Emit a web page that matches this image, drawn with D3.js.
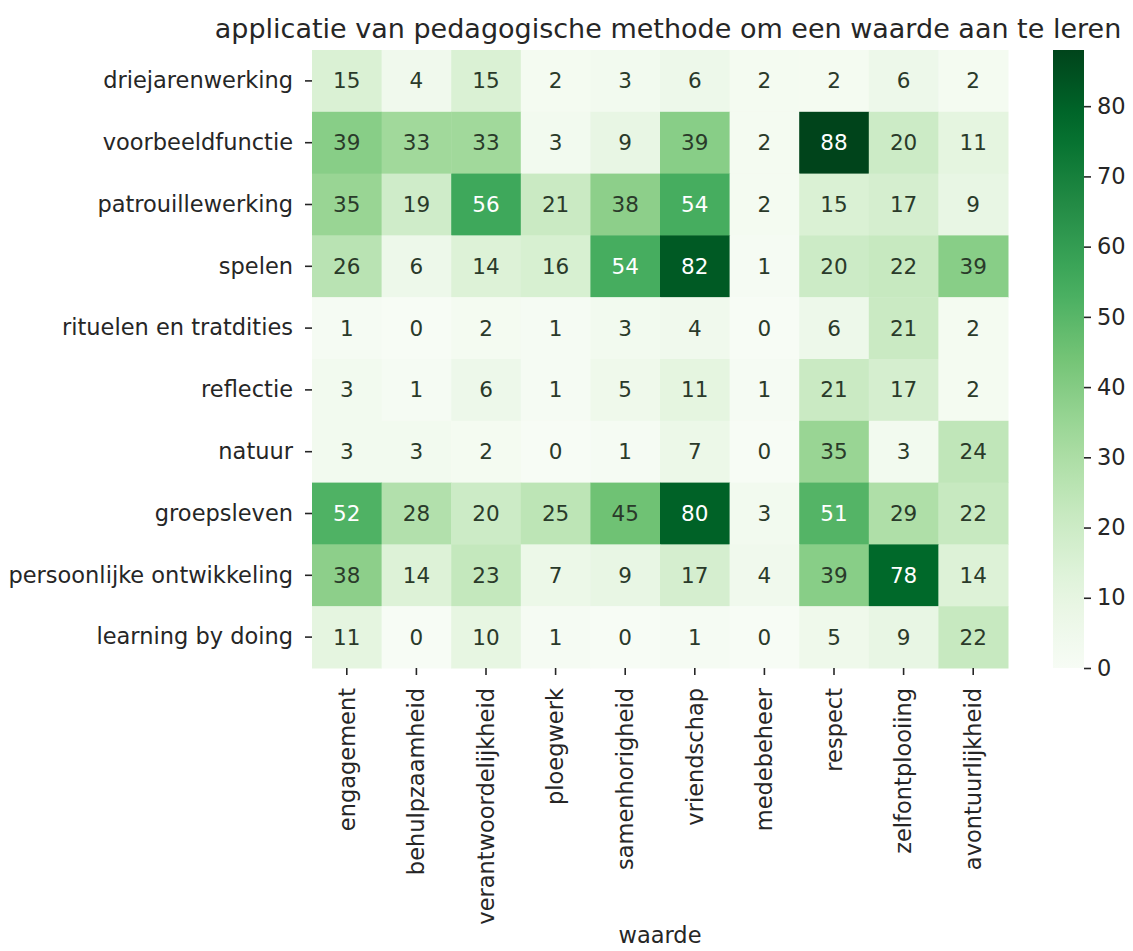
<!DOCTYPE html>
<html>
<head>
<meta charset="utf-8">
<script src="https://cdn.jsdelivr.net/npm/d3@7"></script>
<style>
  body { margin: 0; background: #fff; }
  svg text { font-family: "DejaVu Sans", sans-serif; }
</style>
</head>
<body>
<svg id="chart" width="1133" height="951"></svg>
<script>
// Pedagogical methods (rows) against values (columns)
const methods = [
  "driejarenwerking", "voorbeeldfunctie", "patrouillewerking", "spelen",
  "rituelen en tratdities", "reflectie", "natuur", "groepsleven",
  "persoonlijke ontwikkeling", "learning by doing"
];
const values = [
  "engagement", "behulpzaamheid", "verantwoordelijkheid", "ploegwerk",
  "samenhorigheid", "vriendschap", "medebeheer", "respect",
  "zelfontplooiing", "avontuurlijkheid"
];
const counts = [
  [15, 4, 15, 2, 3, 6, 2, 2, 6, 2],
  [39, 33, 33, 3, 9, 39, 2, 88, 20, 11],
  [35, 19, 56, 21, 38, 54, 2, 15, 17, 9],
  [26, 6, 14, 16, 54, 82, 1, 20, 22, 39],
  [1, 0, 2, 1, 3, 4, 0, 6, 21, 2],
  [3, 1, 6, 1, 5, 11, 1, 21, 17, 2],
  [3, 3, 2, 0, 1, 7, 0, 35, 3, 24],
  [52, 28, 20, 25, 45, 80, 3, 51, 29, 22],
  [38, 14, 23, 7, 9, 17, 4, 39, 78, 14],
  [11, 0, 10, 1, 0, 1, 0, 5, 9, 22]
];
const colorbarTicks = [0, 10, 20, 30, 40, 50, 60, 70, 80];
const greens = ["#f7fcf5", "#e5f5e0", "#c7e9c0", "#a1d99b", "#74c476",
                "#41ab5d", "#238b45", "#006d2c", "#00441b"];

const svg = d3.select("#chart");
const plotLeft = 312, plotTop = 50, plotW = 696, plotH = 618;
const labelSize = 22.5;

const x = d3.scaleBand().domain(values).range([plotLeft, plotLeft + plotW]);
const y = d3.scaleBand().domain(methods).range([plotTop, plotTop + plotH]);

const vmax = d3.max(counts.flat());
const color = d3.scaleLinear()
  .domain(greens.map((_, i) => vmax * i / (greens.length - 1)))
  .range(greens)
  .interpolate(d3.interpolateRgb)
  .clamp(true);

function luminance(c) {
  const rgb = d3.rgb(c);
  const lin = v => { v /= 255; return v <= 0.03928 ? v / 12.92 : Math.pow((v + 0.055) / 1.055, 2.4); };
  return 0.2126 * lin(rgb.r) + 0.7152 * lin(rgb.g) + 0.0722 * lin(rgb.b);
}

const cells = [];
counts.forEach((row, i) => row.forEach((v, j) => cells.push({ m: methods[i], w: values[j], v })));

svg.append("g").selectAll("rect").data(cells).join("rect")
  .attr("x", d => x(d.w))
  .attr("y", d => y(d.m))
  .attr("width", x.bandwidth() + 0.5)
  .attr("height", y.bandwidth() + 0.5)
  .attr("fill", d => color(d.v));

svg.append("g").selectAll("text").data(cells).join("text")
  .attr("x", d => x(d.w) + x.bandwidth() / 2)
  .attr("y", d => y(d.m) + y.bandwidth() / 2)
  .attr("text-anchor", "middle")
  .attr("dominant-baseline", "central")
  .attr("font-size", 21.5)
  .attr("fill", d => luminance(color(d.v)) > 0.408 ? "#2a3a2a" : "#ffffff")
  .text(d => d.v);

// Axes
const yAxis = svg.append("g")
  .attr("transform", `translate(${plotLeft},0)`)
  .call(d3.axisLeft(y).tickSize(7).tickPadding(12));
yAxis.select(".domain").remove();
yAxis.selectAll("text").attr("font-size", labelSize).attr("fill", "#262626");
yAxis.selectAll("line").attr("stroke", "#262626").attr("stroke-width", 1.6);

const xAxis = svg.append("g")
  .attr("transform", `translate(0,${plotTop + plotH})`)
  .call(d3.axisBottom(x).tickSize(7).tickPadding(6));
xAxis.select(".domain").remove();
xAxis.selectAll("line").attr("stroke", "#262626").attr("stroke-width", 1.6);
xAxis.selectAll("text")
  .attr("font-size", labelSize)
  .attr("fill", "#262626")
  .attr("text-anchor", "end")
  .attr("dy", "0.35em")
  .attr("transform", "translate(0,20) rotate(-90)")
  .attr("x", 0).attr("y", 0);

// Colorbar
const cbX = 1053, cbW = 31;
const cbScale = d3.scaleLinear().domain([0, vmax]).range([plotTop + plotH, plotTop]);
const defs = svg.append("defs");
const grad = defs.append("linearGradient").attr("id", "cbgrad")
  .attr("x1", 0).attr("y1", 1).attr("x2", 0).attr("y2", 0);
grad.selectAll("stop").data(d3.range(0, 1.0001, 0.05)).join("stop")
  .attr("offset", d => d)
  .attr("stop-color", d => color(d * vmax));
svg.append("rect")
  .attr("x", cbX).attr("y", plotTop).attr("width", cbW).attr("height", plotH)
  .attr("fill", "url(#cbgrad)");
const cAxis = svg.append("g")
  .attr("transform", `translate(${cbX + cbW},0)`)
  .call(d3.axisRight(cbScale).tickValues(colorbarTicks).tickSize(7).tickPadding(6));
cAxis.select(".domain").remove();
cAxis.selectAll("text").attr("font-size", labelSize).attr("fill", "#262626");
cAxis.selectAll("line").attr("stroke", "#262626").attr("stroke-width", 1.6);

// Title and axis label
svg.append("text")
  .attr("x", plotLeft + plotW / 2 + 8).attr("y", 38)
  .attr("text-anchor", "middle")
  .attr("font-size", 27)
  .attr("fill", "#262626")
  .text("applicatie van pedagogische methode om een waarde aan te leren");

svg.append("text")
  .attr("x", plotLeft + plotW / 2).attr("y", 943)
  .attr("text-anchor", "middle")
  .attr("font-size", labelSize)
  .attr("fill", "#262626")
  .text("waarde");
</script>
</body>
</html>
